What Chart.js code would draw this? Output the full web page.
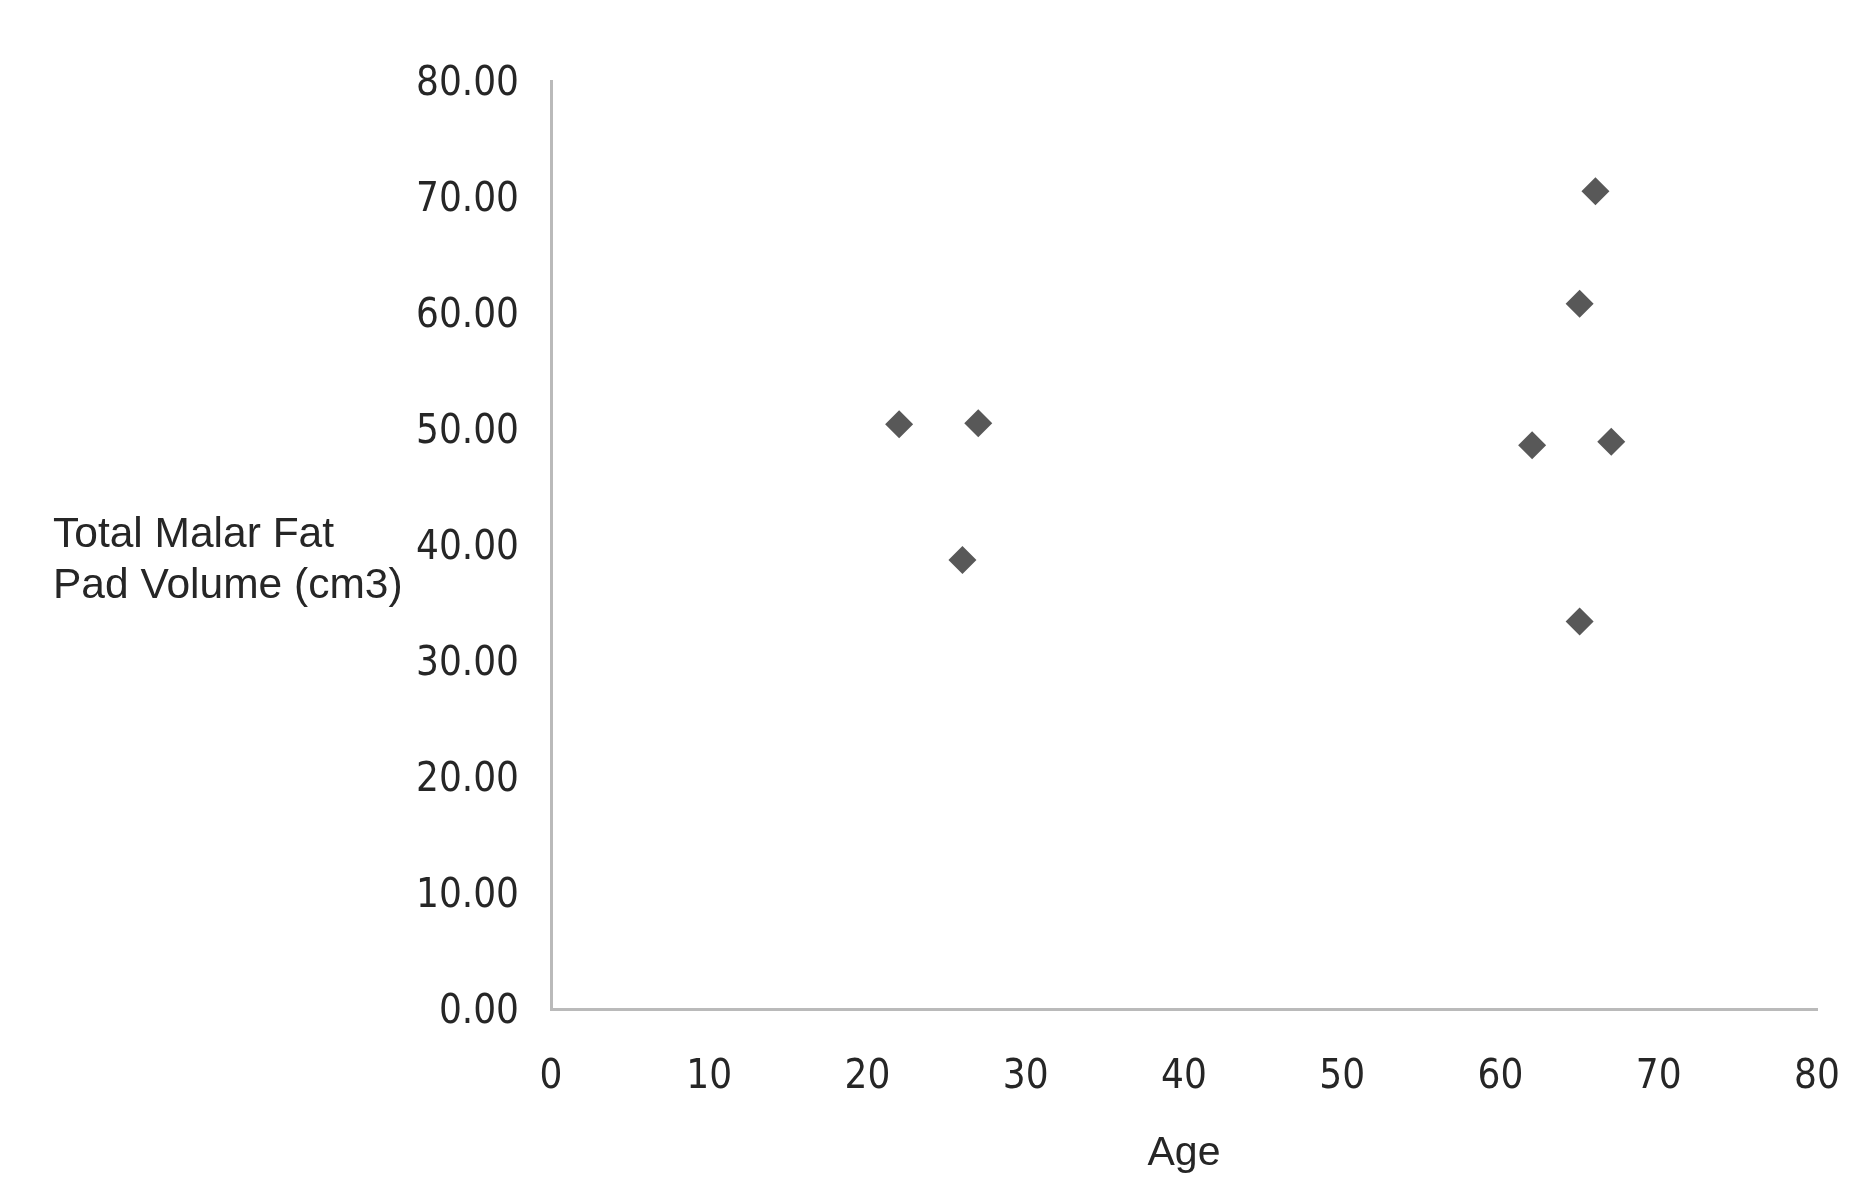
<!DOCTYPE html>
<html>
<head>
<meta charset="utf-8">
<title>Total Malar Fat Pad Volume vs Age</title>
<script src="https://cdn.jsdelivr.net/npm/chart.js@4/dist/chart.umd.min.js"></script>
<style>
  html, body { margin: 0; padding: 0; background: #ffffff; }
  #wrap { width: 1865px; height: 1202px; position: relative; }
</style>
</head>
<body>
<div id="wrap">
  <canvas id="scatter-chart" width="1865" height="1202"></canvas>
</div>
<script>
// ====== DATA ======
const ages = [22, 27, 26, 66, 65, 62, 67, 65];
const volumes = [50.4, 50.5, 38.7, 70.5, 60.8, 48.6, 48.9, 33.4];
const yTitleLines = ['Total Malar Fat', 'Pad Volume (cm3)'];
const xTitle = 'Age';

// ====== STYLE ======
const axisColor = '#bababa';
const textColor = '#262626';
const pointColor = '#585858';
const tickFont = { family: '"DejaVu Sans Condensed", "Liberation Sans Narrow", "DejaVu Sans", sans-serif', size: 40, weight: 'condensed' };
const titleFont = { family: '"Liberation Sans", Arial, sans-serif', size: 41 };
const yTitleSize = 42.5;

// y title sits horizontally on the left, so draw it ourselves
const sideTitlePlugin = {
    id: 'sideTitle',
    afterDraw(chart) {
        const ctx = chart.ctx;
        ctx.save();
        ctx.fillStyle = textColor;
        ctx.font = `${yTitleSize}px ${titleFont.family}`;
        ctx.textAlign = 'left';
        ctx.textBaseline = 'alphabetic';
        ctx.fillText(yTitleLines[0], 53, 547);
        ctx.fillText(yTitleLines[1], 53, 598);
        ctx.restore();
    }
};

const points = ages.map((a, i) => ({ x: a, y: volumes[i] }));

const ctx = document.getElementById('scatter-chart');
new Chart(ctx, {
    type: 'scatter',
    data: {
        datasets: [{
            label: 'Volume',
            data: points,
            pointStyle: 'rectRot',
            pointRadius: 14,
            pointBorderWidth: 0,
            backgroundColor: pointColor,
            borderColor: pointColor
        }]
    },
    options: {
        responsive: false,
        animation: false,
        layout: {
            padding: { left: 0, top: 81, right: 48, bottom: 0 }
        },
        plugins: {
            legend: { display: false },
            tooltip: { enabled: false }
        },
        scales: {
            x: {
                type: 'linear',
                min: 0,
                max: 80,
                grid: { display: false, drawTicks: false },
                border: { display: true, color: axisColor, width: 3 },
                ticks: {
                    stepSize: 10,
                    color: textColor,
                    font: tickFont,
                    padding: 45,
                    maxRotation: 0
                },
                title: {
                    display: true,
                    text: xTitle,
                    color: textColor,
                    font: titleFont,
                    padding: { top: 0, bottom: 24 }
                },
                afterFit(scale) {
                    scale.height = 193;
                    scale.paddingLeft = 0;
                    scale.paddingRight = 0;
                }
            },
            y: {
                type: 'linear',
                min: 0,
                max: 80,
                grid: { display: false, drawTicks: false },
                border: { display: true, color: axisColor, width: 3 },
                ticks: {
                    stepSize: 10,
                    color: textColor,
                    font: tickFont,
                    padding: 32,
                    labelOffset: 4,
                    callback: v => Number(v).toFixed(2)
                },
                afterFit(scale) {
                    scale.width = 551;
                    scale.paddingTop = 0;
                    scale.paddingBottom = 0;
                }
            }
        }
    },
    plugins: [sideTitlePlugin]
});
</script>
</body>
</html>
